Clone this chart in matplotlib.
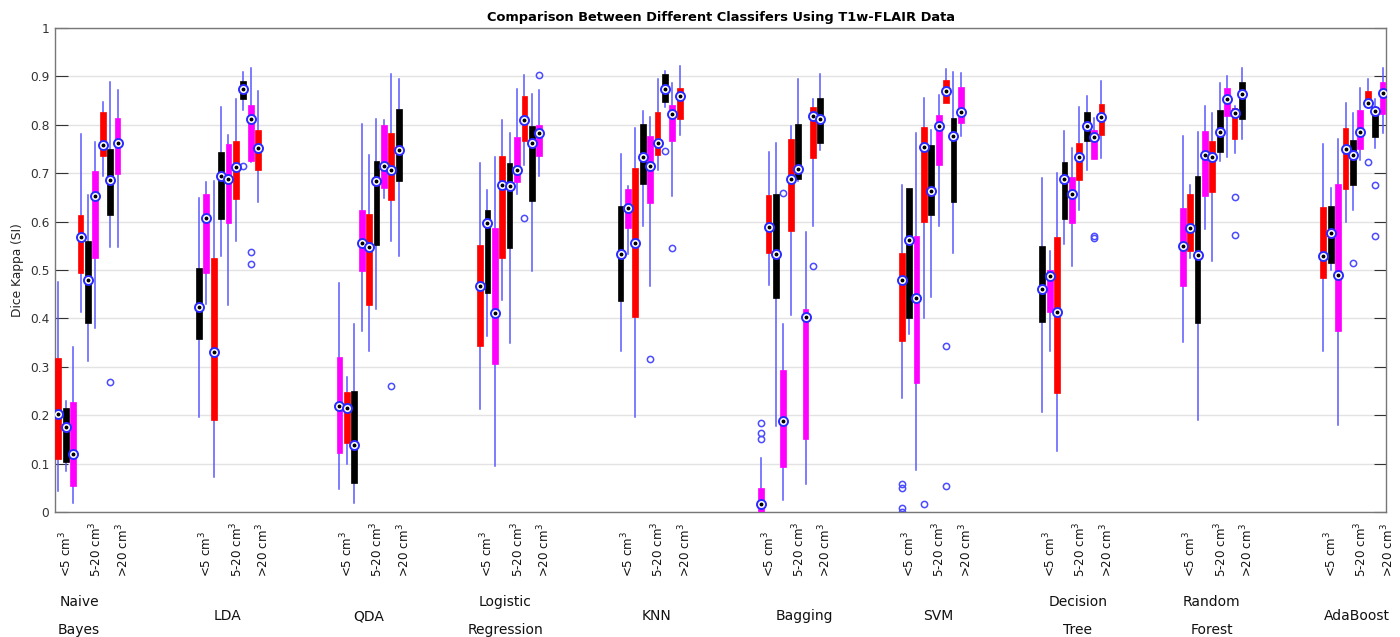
import matplotlib
matplotlib.use("Agg")
from matplotlib import pyplot as plt

classifiers = ["Naive\nBayes", "LDA", "QDA", "Logistic\nRegression", "KNN",
               "Bagging", "SVM", "Decision\nTree", "Random\nForest", "AdaBoost"]
size_labels = ["<5 cm$^3$", "5-20 cm$^3$", ">20 cm$^3$"]

# 9 boxes per classifier
medians = [
    [0.202, 0.176, 0.120, 0.569, 0.479, 0.652, 0.759, 0.685, 0.763],
    [0.424, 0.608, 0.330, 0.695, 0.688, 0.712, 0.874, 0.812, 0.753],
    [0.219, 0.215, 0.139, 0.555, 0.548, 0.683, 0.715, 0.706, 0.747],
    [0.467, 0.597, 0.412, 0.676, 0.674, 0.707, 0.809, 0.763, 0.783],
    [0.534, 0.628, 0.555, 0.734, 0.715, 0.762, 0.874, 0.822, 0.859],
    [0.017, 0.589, 0.533, 0.189, 0.688, 0.708, 0.403, 0.819, 0.813],
    [0.479, 0.562, 0.443, 0.755, 0.663, 0.797, 0.870, 0.776, 0.826],
    [0.460, 0.488, 0.413, 0.688, 0.657, 0.734, 0.797, 0.774, 0.817],
    [0.550, 0.587, 0.531, 0.738, 0.733, 0.786, 0.853, 0.824, 0.864],
    [0.529, 0.577, 0.490, 0.750, 0.738, 0.786, 0.845, 0.828, 0.866],
]
q1 = [
    [0.109, 0.104, 0.053, 0.493, 0.391, 0.525, 0.736, 0.614, 0.699],
    [0.358, 0.493, 0.190, 0.605, 0.598, 0.647, 0.853, 0.726, 0.706],
    [0.122, 0.143, 0.059, 0.499, 0.427, 0.552, 0.669, 0.645, 0.683],
    [0.342, 0.452, 0.306, 0.525, 0.545, 0.681, 0.767, 0.643, 0.736],
    [0.436, 0.586, 0.403, 0.677, 0.638, 0.737, 0.847, 0.766, 0.812],
    [0.000, 0.536, 0.443, 0.092, 0.581, 0.688, 0.151, 0.732, 0.763],
    [0.354, 0.400, 0.266, 0.599, 0.614, 0.717, 0.845, 0.640, 0.803],
    [0.392, 0.413, 0.245, 0.606, 0.597, 0.685, 0.766, 0.730, 0.779],
    [0.466, 0.540, 0.390, 0.653, 0.662, 0.743, 0.819, 0.771, 0.812],
    [0.483, 0.515, 0.374, 0.668, 0.676, 0.750, 0.838, 0.774, 0.823],
]
q3 = [
    [0.318, 0.215, 0.228, 0.614, 0.560, 0.705, 0.826, 0.750, 0.815],
    [0.505, 0.657, 0.525, 0.743, 0.761, 0.767, 0.891, 0.841, 0.790],
    [0.320, 0.249, 0.251, 0.625, 0.615, 0.726, 0.800, 0.784, 0.833],
    [0.552, 0.623, 0.586, 0.736, 0.721, 0.774, 0.859, 0.798, 0.800],
    [0.633, 0.667, 0.710, 0.801, 0.776, 0.826, 0.906, 0.841, 0.877],
    [0.049, 0.655, 0.657, 0.294, 0.770, 0.802, 0.419, 0.837, 0.855],
    [0.536, 0.669, 0.570, 0.795, 0.758, 0.821, 0.893, 0.814, 0.878],
    [0.550, 0.500, 0.569, 0.723, 0.693, 0.763, 0.826, 0.790, 0.843],
    [0.629, 0.657, 0.695, 0.788, 0.767, 0.830, 0.876, 0.834, 0.888],
    [0.631, 0.633, 0.678, 0.793, 0.768, 0.831, 0.869, 0.837, 0.888],
]
whisk_lo = [
    [0.043, 0.084, 0.019, 0.413, 0.312, 0.381, 0.694, 0.548, 0.548],
    [0.197, 0.429, 0.072, 0.530, 0.427, 0.560, 0.831, 0.723, 0.640],
    [0.047, 0.100, 0.019, 0.375, 0.332, 0.419, 0.648, 0.559, 0.529],
    [0.212, 0.363, 0.095, 0.438, 0.349, 0.657, 0.716, 0.497, 0.695],
    [0.333, 0.534, 0.197, 0.591, 0.467, 0.707, 0.837, 0.653, 0.779],
    [0.000, 0.469, 0.178, 0.024, 0.408, 0.683, 0.058, 0.590, 0.747],
    [0.236, 0.367, 0.087, 0.401, 0.444, 0.590, 0.845, 0.536, 0.777],
    [0.207, 0.333, 0.126, 0.553, 0.509, 0.623, 0.707, 0.730, 0.731],
    [0.351, 0.524, 0.190, 0.584, 0.519, 0.726, 0.734, 0.741, 0.770],
    [0.333, 0.501, 0.179, 0.600, 0.624, 0.728, 0.838, 0.752, 0.783],
]
whisk_hi = [
    [0.476, 0.230, 0.341, 0.781, 0.655, 0.764, 0.848, 0.888, 0.872],
    [0.648, 0.681, 0.683, 0.836, 0.779, 0.853, 0.910, 0.917, 0.869],
    [0.474, 0.278, 0.389, 0.801, 0.737, 0.812, 0.809, 0.906, 0.895],
    [0.721, 0.666, 0.733, 0.810, 0.783, 0.874, 0.902, 0.864, 0.872],
    [0.740, 0.674, 0.793, 0.828, 0.816, 0.895, 0.912, 0.886, 0.921],
    [0.112, 0.743, 0.762, 0.388, 0.797, 0.894, 0.578, 0.854, 0.905],
    [0.676, 0.669, 0.783, 0.855, 0.790, 0.862, 0.915, 0.910, 0.908],
    [0.690, 0.539, 0.700, 0.788, 0.752, 0.837, 0.859, 0.814, 0.890],
    [0.776, 0.676, 0.786, 0.839, 0.824, 0.886, 0.901, 0.839, 0.917],
    [0.761, 0.669, 0.770, 0.846, 0.824, 0.876, 0.894, 0.853, 0.917],
]
# (classifier index, box index) -> outlier values
outliers = {
    (0, 7): [0.269],
    (1, 6): [0.714], (1, 7): [0.538, 0.512],
    (2, 7): [0.260],
    (3, 6): [0.607], (3, 8): [0.902],
    (4, 4): [0.317], (4, 6): [0.746], (4, 7): [0.546],
    (5, 0): [0.184, 0.163, 0.151], (5, 3): [0.660], (5, 7): [0.508],
    (6, 0): [0.057, 0.050, 0.008, 0.000], (6, 3): [0.017], (6, 6): [0.342, 0.053],
    (7, 7): [0.570, 0.566],
    (8, 7): [0.650, 0.572],
    (9, 4): [0.515], (9, 6): [0.723], (9, 7): [0.676, 0.571],
}

palette = ["#ff0000", "#000000", "#ff00ff"]
group_step = 19
size_offsets = [1.0, 5.1, 8.7]
name_offsets = [2.8, 3.9, 3.9, 3.4, 4.8, 5.9, 4.9, 4.8, 3.9, 4.5]

stats, positions, colors = [], [], []
for g in range(len(classifiers)):
    for i in range(9):
        stats.append(dict(med=medians[g][i], q1=q1[g][i], q3=q3[g][i],
                          whislo=whisk_lo[g][i], whishi=whisk_hi[g][i],
                          fliers=outliers.get((g, i), [])))
        positions.append(g * group_step + i)
        colors.append(palette[(g + i) % 3])

fig = plt.figure(figsize=(14, 6.37), dpi=100)
ax = fig.add_axes([0.0393, 0.1962, 0.9507, 0.7598])

blue = "#4b4bff"
bp = ax.bxp(stats, positions=positions, widths=0.78, patch_artist=True,
            showcaps=False,
            whiskerprops=dict(color="#5a5aff", linewidth=1.1),
            medianprops=dict(linewidth=0),
            flierprops=dict(marker="o", markerfacecolor="none", markeredgecolor=blue,
                            markersize=4.5, markeredgewidth=1.1))
for patch, c in zip(bp["boxes"], colors):
    patch.set_facecolor(c)
    patch.set_edgecolor(c)
    patch.set_linewidth(0.5)
    patch.set_zorder(3)

med_all = [s["med"] for s in stats]
ax.plot(positions, med_all, "o", ms=6.5, mfc="white", mec="#2b2bff", mew=1.4,
        ls="none", zorder=4)
ax.plot(positions, med_all, "o", ms=1.8, color="black", ls="none", zorder=5)

ax.set_xlim(-0.45, 9 * group_step + 8 + 0.47)
ax.set_ylim(0, 1)
ax.set_yticks([i / 10 for i in range(11)])
ax.set_yticklabels(["0"] + ["%.1f" % (i / 10) for i in range(1, 10)] + ["1"])
ax.set_xticks([])
ax.yaxis.grid(True, color="#e3e3e3", linewidth=1)
ax.set_axisbelow(True)
ax.tick_params(axis="y", direction="in", length=9, right=True, labelsize=8.8,
               colors="#333333", pad=4)
for sp in ax.spines.values():
    sp.set_color("#777777")
    sp.set_linewidth(1)

ax.set_ylabel("Dice Kappa (SI)", fontsize=8.8, color="#222222", labelpad=4)
ax.set_title("Comparison Between Different Classifers Using T1w-FLAIR Data",
             fontsize=9.4, fontweight="bold", pad=5)

tr = ax.get_xaxis_transform()
for g, name in enumerate(classifiers):
    for off, lab in zip(size_offsets, size_labels):
        ax.text(g * group_step + off, -0.134, lab, transform=tr, rotation=90,
                ha="center", va="bottom", fontsize=8.6, color="#111111")
    ax.text(g * group_step + name_offsets[g], -0.215, name, transform=tr,
            ha="center", va="center", fontsize=10, linespacing=2.2,
            color="#111111")

fig.savefig("out.png", dpi=100)
